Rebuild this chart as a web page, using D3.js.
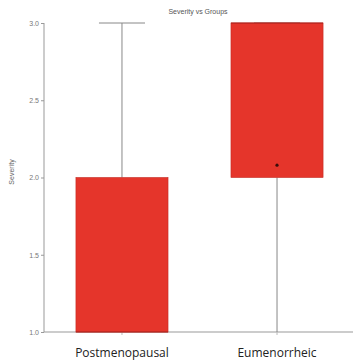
<!DOCTYPE html>
<html><head><meta charset="utf-8">
<script src="https://cdn.jsdelivr.net/npm/d3@7"></script>
<style>body{margin:0;background:#fff}</style>
</head><body>
<svg id="c" width="358" height="360"></svg>
<script>
const categories = ["Postmenopausal", "Eumenorrheic"];
const mins = [1.0, 1.0];
const q1s = [1.0, 2.0];
const medians = [1.0, 3.0];
const q3s = [2.0, 3.0];
const maxs = [3.0, 3.0];
const means = [null, 2.08];
const yTicks = [1.0, 1.5, 2.0, 2.5, 3.0];

const svg = d3.select("#c");
const y = d3.scaleLinear().domain([1, 3]).range([332, 23]);
const x = d3.scaleBand().domain(categories).range([44, 355]).paddingInner(0.406).paddingOuter(0.206);
const bw = x.bandwidth();
const cx = c => x(c) + bw / 2;

// title
svg.append("text").attr("x", 198).attr("y", 14).attr("text-anchor", "middle")
  .attr("font-family", "Liberation Sans, Arial").attr("font-size", 7).attr("fill", "#555").text("Severity vs Groups");
// y label
svg.append("text").attr("transform", "translate(14,172) rotate(-90)").attr("text-anchor", "middle")
  .attr("font-family", "Liberation Sans, Arial").attr("font-size", 7).attr("fill", "#666").text("Severity");

// y axis
const ya = svg.append("g").attr("transform", "translate(44,0)")
  .call(d3.axisLeft(y).tickValues(yTicks).tickFormat(d3.format(".1f")).tickSize(3).tickPadding(2));
ya.select(".domain").attr("stroke", "#999").attr("d", `M0,${y(3)}V${y(1)}`);
ya.selectAll(".tick line").attr("stroke", "#999");
ya.selectAll(".tick text").attr("font-family", "Liberation Sans, Arial").attr("font-size", 7).attr("fill", "#777");

// x axis
const xa = svg.append("g").attr("transform", `translate(0,${y(1)})`)
  .call(d3.axisBottom(x).tickSize(3).tickSizeOuter(0).tickPadding(13));
xa.select(".domain").attr("stroke", "#999").attr("d", `M44,0H353`);
xa.selectAll(".tick line").attr("stroke", "#bbb");
xa.selectAll(".tick text").attr("font-family", "Open Sans, sans-serif").attr("font-size", 12).attr("fill", "#222");

categories.forEach((c, i) => {
  const g = svg.append("g");
  // whiskers
  g.append("line").attr("x1", cx(c)).attr("x2", cx(c)).attr("y1", y(q3s[i])).attr("y2", y(maxs[i])).attr("stroke", "#888");
  g.append("line").attr("x1", cx(c)).attr("x2", cx(c)).attr("y1", y(q1s[i])).attr("y2", y(mins[i])).attr("stroke", "#888");
  g.append("line").attr("x1", cx(c) - bw / 4).attr("x2", cx(c) + bw / 4).attr("y1", y(maxs[i])).attr("y2", y(maxs[i])).attr("stroke", "#888");
  // box
  g.append("rect").attr("x", x(c)).attr("width", bw).attr("y", y(q3s[i])).attr("height", y(q1s[i]) - y(q3s[i]))
    .attr("fill", "#e5352b").attr("stroke", "#c42a22").attr("stroke-width", 0.6);
  // median
  g.append("line").attr("x1", x(c)).attr("x2", x(c) + bw).attr("y1", y(medians[i])).attr("y2", y(medians[i])).attr("stroke", "#a8231c").attr("stroke-width", 1);
  if (means[i] != null) {
    g.append("circle").attr("cx", cx(c)).attr("cy", y(means[i])).attr("r", 1.6).attr("fill", "#3a0d0a");
  }
});
</script>
</body></html>
